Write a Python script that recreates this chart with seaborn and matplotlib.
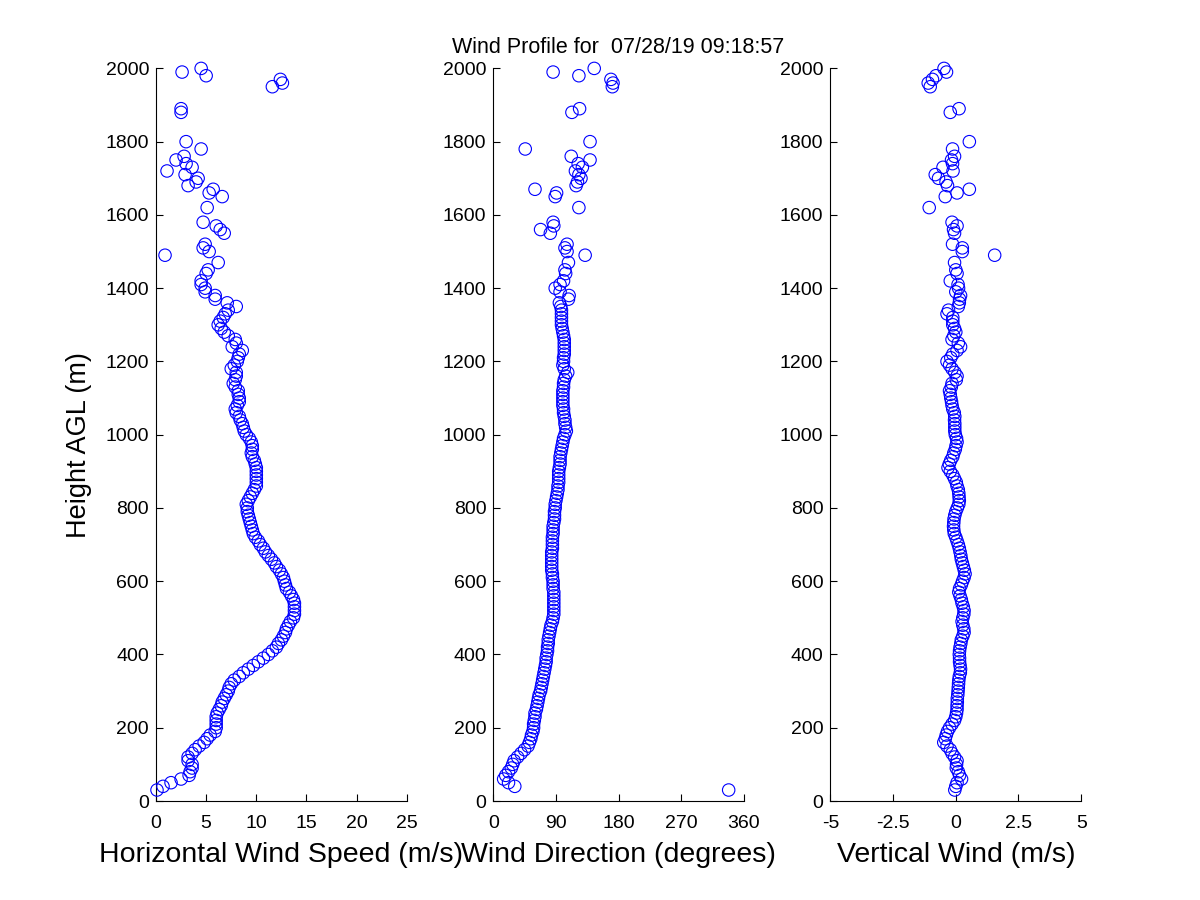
import pandas as pd
import seaborn as sns
import matplotlib.pyplot as plt

# Range gates (m AGL) that passed the quality filter
heights = [
    30, 40, 50, 60, 70, 80, 90, 100, 110, 120, 130, 140, 150, 160, 170, 180, 190, 200,
    210, 220, 230, 240, 250, 260, 270, 280, 290, 300, 310, 320, 330, 340, 350, 360,
    370, 380, 390, 400, 410, 420, 430, 440, 450, 460, 470, 480, 490, 500, 510, 520,
    530, 540, 550, 560, 570, 580, 590, 600, 610, 620, 630, 640, 650, 660, 670, 680,
    690, 700, 710, 720, 730, 740, 750, 760, 770, 780, 790, 800, 810, 820, 830, 840,
    850, 860, 870, 880, 890, 900, 910, 920, 930, 940, 950, 960, 970, 980, 990, 1000,
    1010, 1020, 1030, 1040, 1050, 1060, 1070, 1080, 1090, 1100, 1110, 1120, 1130, 1140,
    1150, 1160, 1170, 1180, 1190, 1200, 1210, 1220, 1230, 1240, 1250, 1260, 1270, 1280,
    1290, 1300, 1310, 1320, 1330, 1340, 1350, 1360, 1370, 1380, 1390, 1400,
    1410, 1420, 1440, 1450, 1470, 1490, 1500, 1510, 1520, 1550, 1560, 1570, 1580, 1620,
    1650, 1660, 1670, 1680, 1690, 1700, 1710, 1720, 1730, 1740, 1750, 1760, 1780, 1800,
    1880, 1890, 1950, 1960, 1970, 1980, 1990, 2000,
]

# Horizontal wind speed (m/s)
speed = [
    0.1, 0.7, 1.5, 2.5, 3.3, 3.4, 3.6, 3.6, 3.2, 3.2, 3.6, 3.9, 4.3, 4.8, 5.1, 5.4, 5.9, 6.0,
    6.0, 6.0, 6.0, 6.1, 6.3, 6.5, 6.6, 6.8, 7.0, 7.2, 7.3, 7.5, 7.8, 8.3, 8.7, 9.2,
    9.7, 10.2, 10.7, 11.2, 11.6, 12.0, 12.2, 12.5, 12.7, 12.9, 13.0, 13.2, 13.4, 13.7, 13.8, 13.8,
    13.8, 13.8, 13.7, 13.5, 13.3, 13.0, 12.9, 12.8, 12.7, 12.5, 12.3, 12.0, 11.8, 11.5, 11.2, 10.9,
    10.7, 10.4, 10.2, 9.9, 9.7, 9.6, 9.5, 9.4, 9.3, 9.2, 9.1, 9.1, 9.0, 9.2, 9.4, 9.6,
    9.8, 10.0, 10.0, 10.0, 10.0, 10.0, 10.0, 9.9, 9.8, 9.6, 9.5, 9.6, 9.6, 9.5, 9.3, 9.0,
    8.8, 8.7, 8.6, 8.4, 8.3, 8.0, 7.9, 8.1, 8.3, 8.3, 8.2, 8.2, 7.9, 7.7,
    7.9, 8.0, 8.0, 7.5, 7.8, 8.1, 8.2, 8.3, 8.6, 7.6, 8.0, 7.9, 7.2, 6.8,
    6.5, 6.2, 6.4, 6.7, 6.9, 7.2, 8.0, 7.1, 5.9, 5.9, 4.9, 4.9,
    4.5, 4.5, 5.0, 5.2, 6.2, 0.9, 5.3, 4.7, 4.9, 6.8, 6.4, 6.0, 4.7, 5.1,
    6.6, 5.3, 5.7, 3.2, 4.0, 4.2, 2.9, 1.1, 3.6, 3.0, 2.0, 2.8, 4.5, 3.0,
    2.5, 2.5, 11.6, 12.6, 12.4, 5.0, 2.6, 4.5,
]

# Wind direction (degrees)
direction = [
    338, 31, 22, 15, 18, 22, 26, 28, 30, 35, 40, 45, 50, 52, 54, 55, 57, 58,
    58, 59, 60, 60, 62, 63, 64, 65, 66, 68, 69, 70, 71, 72, 73, 74,
    75, 76, 76, 77, 78, 78, 79, 79, 80, 81, 82, 83, 85, 86, 87, 87,
    87, 87, 87, 87, 87, 86, 86, 86, 85, 85, 84, 84, 84, 84, 84, 84,
    85, 85, 85, 85, 86, 86, 86, 87, 88, 88, 88, 89, 89, 90, 91, 92,
    93, 93, 94, 94, 94, 94, 95, 96, 96, 96, 97, 98, 99, 100, 101, 103,
    105, 104, 103, 103, 102, 101, 101, 100, 100, 100, 100, 100, 101, 101,
    102, 104, 107, 102, 100, 101, 101, 102, 102, 102, 102, 102, 101, 100,
    99, 98, 98, 98, 98, 98, 97, 95, 108, 109, 96, 89,
    96, 101, 104, 103, 108, 132, 106, 103, 106, 82, 68, 87, 86, 123,
    89, 91, 60, 119, 121, 126, 123, 118, 128, 122, 139, 112, 46, 139,
    113, 124, 171, 172, 169, 123, 86, 145,
]

# Vertical wind (m/s)
vertical = [
    -0.04, 0.0, 0.05, 0.23, 0.15, 0.1, 0.02, 0.03, 0.05, -0.05, -0.15, -0.22, -0.35, -0.48, -0.42, -0.38, -0.33, -0.25,
    -0.15, -0.05, 0.0, 0.03, 0.05, 0.05, 0.06, 0.06, 0.08, 0.09, 0.1, 0.11, 0.12, 0.14, 0.18, 0.19,
    0.17, 0.15, 0.15, 0.14, 0.15, 0.17, 0.2, 0.22, 0.28, 0.33, 0.32, 0.28, 0.25, 0.28, 0.32, 0.33,
    0.3, 0.25, 0.22, 0.17, 0.12, 0.15, 0.22, 0.27, 0.33, 0.37, 0.34, 0.3, 0.26, 0.22, 0.2, 0.17,
    0.14, 0.1, 0.05, 0.0, -0.06, -0.08, -0.09, -0.08, -0.07, -0.04, 0.0, 0.06, 0.12, 0.14, 0.13, 0.12,
    0.1, 0.05, 0.02, -0.05, -0.12, -0.22, -0.31, -0.26, -0.2, -0.12, -0.08, -0.02, 0.01, 0.05, 0.03, -0.02,
    -0.04, -0.04, -0.04, -0.05, -0.04, -0.06, -0.12, -0.15, -0.17, -0.2, -0.22, -0.25, -0.18, -0.15,
    0.02, 0.05, -0.04, -0.15, -0.25, -0.35, -0.2, -0.12, 0.05, 0.19, 0.1, -0.15, -0.08, 0.0,
    -0.05, -0.12, -0.12, -0.12, -0.35, -0.29, 0.1, 0.14, 0.15, 0.19, 0.0, 0.11,
    0.09, -0.22, 0.05, 0.0, -0.05, 1.55, 0.26, 0.26, -0.13, -0.05, -0.09, 0.05, -0.15, -1.06,
    -0.42, 0.05, 0.54, -0.33, -0.39, -0.69, -0.82, -0.11, -0.51, -0.13, -0.17, -0.05, -0.13, 0.54,
    -0.22, 0.13, -1.02, -1.10, -0.93, -0.79, -0.37, -0.47,
]

title_text = "Wind Profile for  07/28/19 09:18:57"
xlabels = ["Horizontal Wind Speed (m/s)", "Wind Direction (degrees)", "Vertical Wind (m/s)"]
xlims = [(0, 25), (0, 360), (-5, 5)]
xticks = [[0, 5, 10, 15, 20, 25], [0, 90, 180, 270, 360], [-5, -2.5, 0, 2.5, 5]]
xticklabels = [["0", "5", "10", "15", "20", "25"],
               ["0", "90", "180", "270", "360"],
               ["-5", "-2.5", "0", "2.5", "5"]]
yticks = [0, 200, 400, 600, 800, 1000, 1200, 1400, 1600, 1800, 2000]

df = pd.DataFrame({"height": heights, "speed": speed,
                   "direction": direction, "vertical": vertical})

sns.set_style("ticks")
plt.rcParams['font.family'] = ['Liberation Sans', 'DejaVu Sans']
plt.rcParams['xtick.direction'] = 'in'
plt.rcParams['ytick.direction'] = 'in'
plt.rcParams['text.color'] = 'black'
plt.rcParams['axes.labelcolor'] = 'black'

fig = plt.figure(figsize=(12, 9), dpi=100)
lefts = [0.13, 0.411, 0.692]
axes = [fig.add_axes([l, 0.11, 0.209, 0.814]) for l in lefts]

for i, (ax, col) in enumerate(zip(axes, ["speed", "direction", "vertical"])):
    sns.scatterplot(data=df, x=col, y="height", ax=ax, marker="o", s=80,
                    facecolor="none", edgecolor="blue", linewidth=0.8,
                    clip_on=False, zorder=3)
    ax.set_xlim(*xlims[i])
    ax.set_ylim(0, 2000)
    ax.set_xticks(xticks[i])
    ax.set_xticklabels(xticklabels[i])
    ax.set_yticks(yticks)
    ax.set_xlabel(xlabels[i], fontsize=20.5, labelpad=7)
    ax.set_ylabel("")
    ax.tick_params(axis="both", labelsize=14, length=5, width=0.8,
                   colors="black", labelcolor="black")
    ax.tick_params(axis="x", pad=10)
    ax.tick_params(axis="y", pad=5)
    for side in ["left", "bottom"]:
        ax.spines[side].set_linewidth(0.8)
        ax.spines[side].set_color("black")
    sns.despine(ax=ax)

axes[0].set_ylabel("Height AGL (m)", fontsize=19.5)
axes[0].yaxis.set_label_coords(-0.255, 0.486)
axes[1].set_title(title_text, fontsize=15.5, pad=11)

fig.savefig("out.png", dpi=100, facecolor="white")
